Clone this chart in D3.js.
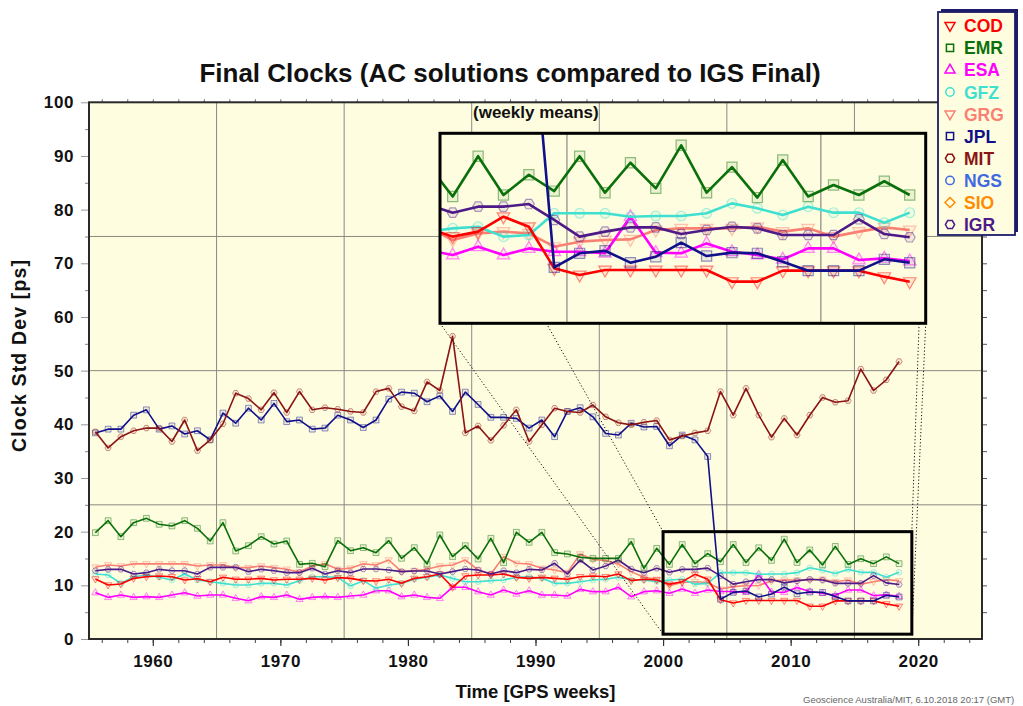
<!DOCTYPE html>
<html><head><meta charset="utf-8">
<script src="https://cdn.jsdelivr.net/npm/d3@7"></script>
<style>
body{margin:0;background:#fff;}
svg{display:block;font-family:"Liberation Sans",Arial,Helvetica,sans-serif;}
</style>
</head><body>
<svg id="c" width="1023" height="706"></svg>
<script>
// ---------- DATA (GPS week, weekly means; point plotted at mid-week) ----------
const weeks = [1955,1956,1957,1958,1959,1960,1961,1962,1963,1964,1965,1966,1967,1968,1969,
1970,1971,1972,1973,1974,1975,1976,1977,1978,1979,1980,1981,1982,1983,1984,1985,1986,1987,1988,1989,
1990,1991,1992,1993,1994,1995,1996,1997,1998,1999,2000,2001,2002,2003,2004,2005,2006,2007,2008,2009,
2010,2011,2012,2013,2014,2015,2016,2017,2018];

const COD = [11.18,10.06,10.25,11.3,11.61, 11.74,11.61,10.99,11.24,10.68, 11.49,11.12,11.12,11.3,10.99,
 11.12,11.12,11.3,10.99,11.43, 11.3,10.87,10.81,11.12,10.37, 11.3,11.61,12.11,9.63,11.74,
 11.93,11.93,12.11,11.49,11.3, 11.49,11.3,11.12,11.61,11.74, 11.61,12.11,10.87,11.12,11.0,
 10.22,10.68,12.05,11.13,7.31, 6.7,7.16,7.16,7.16,7.16, 7.16,6.09,6.09,7.1,7.1, 7.1,7.1,6.55,6.09];
const EMR = [19.81,22.05,19.07,21.68,22.48, 21.37,21.06,22.05,20.62,18.26, 21.68,16.4,17.39,19.07,17.7,
 18.26,13.91,14.1,13.48,18.32, 16.46,17.02,16.09,18.32,15.03, 17.02,13.97,19.38,15.34,17.39,
 14.91,18.76,14.22,19.88,18.01, 19.88,16.09,15.84,15.22,15.03, 15.03,15.03,18.14,13.17,16.89,
 13.9,17.6,14.04,15.9,14.4, 17.6,14.25,17.0,14.65,18.6, 14.25,16.6,13.8,17.25,13.9, 14.96,14.04,15.3,14.04];
const ESA = [8.63,7.76,8.2,7.76,7.89, 7.76,8.2,8.63,8.01,8.2, 8.2,7.58,7.14,7.89,7.76,
 8.2,7.39,7.76,7.89,7.76, 8.01,8.2,9.0,9.0,7.89, 8.2,7.76,7.58,9.63,9.63,
 8.82,8.2,9.13,8.38,9.0, 8.2,8.2,8.01,9.25,8.82, 8.82,9.63,7.89,8.82,9.0,
 8.53,9.3,8.53,9.14,8.84, 8.84,8.69,12.05,8.75,8.69, 9.6,8.84,8.53,8.14,9.14, 9.14,8.08,8.23,7.98];
const GFZ = [12.11,11.93,10.37,11.61,11.93, 11.49,10.99,12.11,10.99,10.68, 10.37,10.06,10.06,10.37,10.37,
 10.06,10.87,11.61,11.61,11.49, 9.88,10.87,9.44,10.06,10.37, 11.12,11.49,11.93,11.3,10.68,
 10.68,10.87,10.99,11.49,11.61, 11.3,10.37,10.37,10.68,10.99, 11.12,11.49,10.99,10.99,10.68,
 10.98,11.13,10.22,10.37,12.36, 12.36,12.36,12.05,12.11,12.11, 12.36,13.27,12.82,12.21,12.97, 12.42,12.42,11.5,12.42];
const GRG = [13.4,13.8,13.6,14.0,14.0, 14.0,14.0,14.0,13.6,13.8, 13.8,13.3,13.3,13.6,13.3,
 13.0,12.5,13.6,14.0,13.0, 13.2,14.0,13.79,14.72,12.55, 12.73,12.98,13.6,13.79,14.72,
 12.86,12.11,15.34,14.1,13.97, 13.17,12.86,12.36,15.84,14.84, 14.6,13.97,12.55,11.49,11.12,
 9.91,10.52,10.68,10.52,9.3, 9.76,9.91,9.97,10.83,10.98, 10.98,10.98,11.13,10.68,10.98, 10.22,10.68,11.07,10.83];
const JPL = [38.4,39.1,39.1,41.7,42.7, 39.1,39.7,38.2,38.8,37.1, 42.1,40.2,43.0,40.8,43.9,
 40.5,40.8,39.1,39.3,41.7, 40.8,39.4,40.8,44.7,46.0, 45.8,44.2,45.3,42.4,46.0,
 43.7,41.3,41.3,41.1,39.3, 40.8,37.7,42.4,43.1,41.4, 38.3,38.0,40.2,39.5,39.6,
 36.0,38.0,37.1,34.0,7.4, 8.69,8.93,7.83,8.38,9.67, 8.44,8.75,8.69,7.92,7.1, 7.1,7.1,8.14,7.83];
const MIT = [38.6,35.6,37.7,38.8,39.3, 39.3,36.8,40.8,35.1,37.1, 40.1,45.8,44.8,42.7,45.9,
 42.2,46.1,42.7,43.1,42.8, 42.4,42.2,46.1,46.7,43.3, 42.5,47.9,46.3,56.4,38.4,
 39.7,37.0,39.8,42.7,36.8, 39.9,43.0,42.4,42.2,43.6, 41.4,40.3,39.9,40.4,40.7,
 37.1,37.8,38.4,38.8,46.1, 41.7,46.7,41.7,37.6,41.1, 38.0,41.7,45.0,44.1,44.4, 50.3,46.3,48.3,51.7];
const IGR = [12.73,12.98,12.98,12.11,12.36, 12.98,12.73,12.73,12.11,13.35, 13.35,13.35,12.55,12.98,12.73,
 12.36,12.36,13.17,12.11,12.73, 12.36,13.04,13.04,12.86,12.55, 12.67,12.67,12.11,12.55,13.04,
 12.86,12.11,12.73,12.36,12.98, 12.86,14.1,12.11,14.72,12.86, 13.6,14.72,13.04,12.36,13.17,
 12.42,12.97,12.97,13.21,11.75, 10.22,10.68,11.07,11.07,10.46, 10.83,11.13,10.98,10.37,10.37, 10.37,11.81,10.46,10.16];

const legendNames  = ["COD","EMR","ESA","GFZ","GRG","JPL","MIT","NGS","SIO","IGR"];
const legendColors = ["#ff0000","#0a700a","#ff00ff","#40e0d0","#fa8072","#10108a","#8b1414","#4169e1","#ff8c00","#4e1a88"];
const legendShapes = ["triDown","square","triUp","circle","triDown","square","hex","circle","diamond","hex"];
const seriesData = {COD, EMR, ESA, GFZ, GRG, JPL, MIT, IGR};
const drawOrder = ["GRG","ESA","GFZ","COD","IGR","EMR","JPL","MIT"];

const xMajorTicks = [1960,1970,1980,1990,2000,2010,2020];
const yMajorTicks = [0,10,20,30,40,50,60,70,80,90,100];
const xGrid = [1965,1975,1985,1995,2005,2015];
const yGrid = [25,50,75];
const zoomWeeks = [2000, 2019.5];
const zoomVals  = [0.9, 20];

// ---------- SETUP ----------
const svg = d3.select("#c");
const L = 89, R = 982, T = 102.3, B = 639;
const x = d3.scaleLinear().domain([1955, 2025]).range([L, R]);
const y = d3.scaleLinear().domain([0, 100]).range([B, T]);
const BG = "#fffde0";

const shapes = {
  square:{draw(c,r){c.rect(-r,-r,2*r,2*r);}},
  circle:{draw(c,r){c.moveTo(r,0);c.arc(0,0,r,0,2*Math.PI);}},
  triDown:{draw(c,r){c.moveTo(-r,-0.62*r);c.lineTo(r,-0.62*r);c.lineTo(0,1.12*r);c.closePath();}},
  triUp:{draw(c,r){c.moveTo(-r,0.62*r);c.lineTo(r,0.62*r);c.lineTo(0,-1.12*r);c.closePath();}},
  hex:{draw(c,r){for(let i=0;i<6;i++){const a=i*Math.PI/3;const px=r*Math.cos(a),py=r*Math.sin(a);i?c.lineTo(px,py):c.moveTo(px,py);}c.closePath();}},
  diamond:{draw(c,r){c.moveTo(0,-r);c.lineTo(r,0);c.lineTo(0,r);c.lineTo(-r,0);c.closePath();}}
};
const colorOf = n => legendColors[legendNames.indexOf(n)];
const shapeOf = n => legendShapes[legendNames.indexOf(n)];
const markerR = {square:2.9, circle:2.8, triDown:3.6, triUp:3.6, hex:3.1, diamond:3.5};

svg.append("rect").attr("x",L).attr("y",T).attr("width",R-L).attr("height",B-T).attr("fill",BG);

const grid = svg.append("g").attr("stroke","#8a8a80").attr("stroke-width",1);
grid.selectAll("line.v").data(xGrid).join("line").attr("class","v")
  .attr("x1",d=>x(d)).attr("x2",d=>x(d)).attr("y1",T).attr("y2",B);
grid.selectAll("line.h").data(yGrid).join("line").attr("class","h")
  .attr("x1",L).attr("x2",R).attr("y1",d=>y(d)).attr("y2",d=>y(d));

function drawSeries(g, xs, ys, rScale, lw, mOp){
  drawOrder.forEach(name=>{
    const vals = seriesData[name];
    const pts = weeks.map((w,i)=>({w:w+0.5, v:vals[i]}));
    const col = colorOf(name), sh = shapes[shapeOf(name)];
    const r = markerR[shapeOf(name)]*rScale;
    g.append("g").selectAll("path").data(pts).join("path")
      .attr("transform",d=>`translate(${xs(d.w)},${ys(d.v)})`)
      .attr("d", d3.symbol().type(sh).size(r))
      .attr("fill",col).attr("fill-opacity",0.08)
      .attr("stroke",col).attr("stroke-opacity",mOp).attr("stroke-width",Math.max(1,rScale*0.7));
    g.append("path").datum(pts)
      .attr("d", d3.line().x(d=>xs(d.w)).y(d=>ys(d.v)))
      .attr("fill","none").attr("stroke",col).attr("stroke-width",lw).attr("stroke-linejoin","round");
  });
}

svg.append("clipPath").attr("id","mainClip").append("rect").attr("x",L).attr("y",T).attr("width",R-L).attr("height",B-T);
const mainG = svg.append("g").attr("clip-path","url(#mainClip)");
drawSeries(mainG, x, y, 1, 1.6, 0.45);

// ---------- axes ----------
const tickFont = g => g.selectAll("text").attr("font-size",17).attr("font-weight","bold")
  .attr("letter-spacing","0.6px").attr("fill","#111");
const minorX = d3.range(1956, 2025, 2);
svg.append("g").attr("transform",`translate(0,${B})`)
  .call(d3.axisBottom(x).tickValues(minorX).tickSize(4).tickFormat(""))
  .call(g=>{g.select(".domain").remove();g.selectAll("line").attr("stroke","#444");});
svg.append("g").attr("transform",`translate(0,${B})`)
  .call(d3.axisBottom(x).tickValues(xMajorTicks).tickSize(7).tickPadding(9).tickFormat(d3.format("d")))
  .call(g=>{g.select(".domain").remove();g.selectAll("line").attr("stroke","#333").attr("stroke-width",1.2);})
  .call(tickFont);
svg.append("g").attr("transform",`translate(0,${T})`)
  .call(d3.axisTop(x).tickValues(minorX).tickSize(3).tickFormat(""))
  .call(g=>{g.select(".domain").remove();g.selectAll("line").attr("stroke","#666");});
svg.append("g").attr("transform",`translate(${L},0)`)
  .call(d3.axisLeft(y).tickValues(d3.range(5,100,10)).tickSize(4).tickFormat(""))
  .call(g=>{g.select(".domain").remove();g.selectAll("line").attr("stroke","#888");});
svg.append("g").attr("transform",`translate(${L},0)`)
  .call(d3.axisLeft(y).tickValues(yMajorTicks).tickSize(8).tickPadding(7).tickFormat(d3.format("d")))
  .call(g=>{g.select(".domain").remove();g.selectAll("line").attr("stroke","#999");})
  .call(tickFont);
svg.append("g").attr("transform",`translate(${R},0)`)
  .call(d3.axisRight(y).tickValues(d3.range(5,100,5)).tickSize(5).tickFormat(""))
  .call(g=>{g.select(".domain").remove();g.selectAll("line").attr("stroke","#555");});
svg.append("rect").attr("x",L).attr("y",T).attr("width",R-L).attr("height",B-T)
  .attr("fill","none").attr("stroke","#2a2a2a").attr("stroke-width",2);

// ---------- zoom box + connectors ----------
const zb = {x0:x(zoomWeeks[0]), x1:x(zoomWeeks[1]), y0:y(zoomVals[1]), y1:y(zoomVals[0])};
const ins = {x0:440, x1:925.7, y0:133.3, y1:323.3};
const conn = [[ins.x0,ins.y0,zb.x0,zb.y0],[ins.x0,ins.y1,zb.x0,zb.y1],[ins.x1,ins.y0,zb.x1,zb.y0],[ins.x1,ins.y1,zb.x1,zb.y1]];
svg.append("g").selectAll("line").data(conn).join("line")
  .attr("x1",d=>d[0]).attr("y1",d=>d[1]).attr("x2",d=>d[2]).attr("y2",d=>d[3])
  .attr("stroke","#111").attr("stroke-width",1).attr("stroke-dasharray","1.2,2.2");
svg.append("rect").attr("x",zb.x0).attr("y",zb.y0).attr("width",zb.x1-zb.x0).attr("height",zb.y1-zb.y0)
  .attr("fill","none").attr("stroke","#000").attr("stroke-width",3);

// ---------- inset ----------
const xi = d3.scaleLinear().domain([2000, 2019.13]).range([ins.x0, ins.x1]);
const yi = d3.scaleLinear().domain([2.27, 19.7]).range([ins.y1, ins.y0]);
svg.append("rect").attr("x",ins.x0).attr("y",ins.y0).attr("width",ins.x1-ins.x0).attr("height",ins.y1-ins.y0).attr("fill",BG);
svg.append("clipPath").attr("id","insClip").append("rect").attr("x",ins.x0).attr("y",ins.y0).attr("width",ins.x1-ins.x0).attr("height",ins.y1-ins.y0);
const insG = svg.append("g").attr("clip-path","url(#insClip)");
insG.selectAll("line.g").data([2005,2015]).join("line").attr("class","g")
  .attr("x1",d=>xi(d)).attr("x2",d=>xi(d)).attr("y1",ins.y0).attr("y2",ins.y1)
  .attr("stroke","#8a8a80").attr("stroke-width",1.2);
drawSeries(insG, xi, yi, 1.75, 2.6, 0.45);
svg.append("rect").attr("x",ins.x0).attr("y",ins.y0).attr("width",ins.x1-ins.x0).attr("height",ins.y1-ins.y0)
  .attr("fill","none").attr("stroke","#000").attr("stroke-width",3);
svg.append("text").attr("x",473).attr("y",118).attr("font-size",17).attr("font-weight","bold").attr("fill","#111")
  .text("(weekly means)");

// ---------- titles ----------
svg.append("text").attr("x",510).attr("y",82).attr("text-anchor","middle").attr("font-size",26).attr("font-weight","bold").attr("fill","#111")
  .text("Final Clocks (AC solutions compared to IGS Final)");
svg.append("text").attr("transform",`translate(26,356) rotate(-90)`).attr("text-anchor","middle")
  .attr("font-size",19.5).attr("font-weight","bold").attr("fill","#111")
  .attr("textLength",192).attr("lengthAdjust","spacing").text("Clock Std Dev [ps]");
svg.append("text").attr("x",(L+R)/2).attr("y",698).attr("text-anchor","middle")
  .attr("font-size",18.5).attr("font-weight","bold").attr("fill","#111").text("Time [GPS weeks]");
svg.append("text").attr("x",803).attr("y",703).attr("font-size",9.5).attr("fill","#666")
  .text("Geoscience Australia/MIT, 6.10.2018 20:17 (GMT)");

// ---------- legend ----------
const lg = svg.append("g");
lg.append("rect").attr("x",941).attr("y",9).attr("width",77).attr("height",223).attr("fill","#1c1c6a");
lg.append("rect").attr("x",938).attr("y",12).attr("width",77).attr("height",223).attr("fill",BG)
  .attr("stroke","#1c1c6a").attr("stroke-width",1.8);
const legR = {square:3.6, circle:4.2, triDown:5, triUp:5, hex:4.6, diamond:5};
const rows = lg.selectAll("g.row").data(legendNames).join("g").attr("class","row")
  .attr("transform",(d,i)=>`translate(0,${25.7+i*22.1})`);
rows.append("path").attr("transform","translate(950,0)")
  .attr("d",(d,i)=>d3.symbol().type(shapes[legendShapes[i]]).size(legR[legendShapes[i]])())
  .attr("fill","none").attr("stroke",(d,i)=>legendColors[i]).attr("stroke-width",1.5);
rows.append("text").attr("x",964).attr("y",6.5).attr("font-size",17.5).attr("font-weight","bold")
  .attr("fill",(d,i)=>legendColors[i]).text(d=>d);
</script>
</body></html>
